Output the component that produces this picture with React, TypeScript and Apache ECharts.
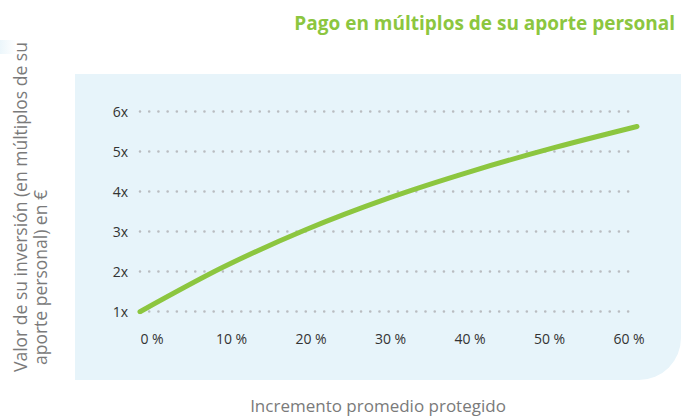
import React, { useEffect, useRef } from "react";
import * as echarts from "echarts";

const TITLE = "Pago en múltiplos de su aporte personal";
const X_NAME = "Incremento promedio protegido";
const Y_NAME_LINES = ["Valor de su inversión (en múltiplos de su", "aporte personal) en €"];

const percentValues = [0, 10, 20, 30, 40, 50, 60];
const multipleValues = [1.0, 2.11, 3.05, 3.84, 4.51, 5.1, 5.63];
const yTicks = [1, 2, 3, 4, 5, 6];

const GREEN = "#8cc63f";
const FONT = "'Open Sans', 'Noto Sans', sans-serif";

export default function App() {
  const ref = useRef<HTMLDivElement>(null);

  useEffect(() => {
    document.body.style.margin = "0";
    if (!ref.current) return;
    const chart = echarts.init(ref.current, undefined, { renderer: "svg" });

    const yNameStyle = {
      fill: "#7a7a7a",
      fontSize: 17.5,
      fontFamily: FONT,
      align: "left",
      verticalAlign: "middle",
    };

    const option: any = {
      animation: false,
      backgroundColor: "#ffffff",
      textStyle: { fontFamily: FONT },
      title: {
        text: TITLE,
        right: 1,
        top: 8,
        textStyle: { color: GREEN, fontSize: 19, fontWeight: "bold", fontFamily: FONT },
      },
      graphic: {
        elements: [
          {
            type: "rect",
            z: -10,
            shape: { x: 75, y: 74, width: 606, height: 306, r: [0, 0, 42, 0] },
            style: { fill: "#e7f4fa" },
          },
          {
            type: "rect",
            z: -10,
            shape: { x: 0, y: 40, width: 16, height: 14 },
            style: {
              fill: new echarts.graphic.LinearGradient(0, 0, 1, 0, [
                { offset: 0, color: "rgba(231,244,250,0.8)" },
                { offset: 1, color: "rgba(231,244,250,0)" },
              ]),
            },
          },
          {
            type: "text",
            x: 20,
            y: 372,
            rotation: Math.PI / 2,
            style: { ...yNameStyle, text: Y_NAME_LINES[0] },
          },
          {
            type: "text",
            x: 39.5,
            y: 365,
            rotation: Math.PI / 2,
            style: { ...yNameStyle, text: Y_NAME_LINES[1] },
          },
          {
            type: "text",
            x: 378,
            y: 405,
            style: {
              text: X_NAME,
              fill: "#7a7a7a",
              fontSize: 17,
              fontFamily: FONT,
              align: "center",
              verticalAlign: "middle",
              lineHeight: 18,
            },
          },
        ],
      },
      grid: [
        { left: 140, right: 44, top: 111.7, bottom: 416 - 311.7 },
        { left: 152, right: 52, top: 111.7, bottom: 416 - 311.7 },
      ],
      xAxis: [
        {
          type: "value",
          gridIndex: 0,
          min: 0,
          max: 60,
          interval: 10,
          axisLine: { show: false },
          axisTick: { show: false },
          axisLabel: { show: false },
          splitLine: { show: false },
        },
        {
          type: "value",
          gridIndex: 1,
          min: 0,
          max: 60,
          interval: 10,
          axisLine: { show: false },
          axisTick: { show: false },
          splitLine: { show: false },
          axisLabel: {
            show: true,
            margin: 20,
            color: "#333333",
            fontSize: 14,
            fontFamily: FONT,
            formatter: (v: number) => `${v} %`,
          },
        },
      ],
      yAxis: [
        {
          type: "value",
          gridIndex: 0,
          min: 1,
          max: 6,
          interval: 1,
          axisLine: { show: false },
          axisTick: { show: false },
          axisLabel: {
            margin: 12,
            color: "#333333",
            fontSize: 14,
            fontFamily: FONT,
            formatter: (v: number) => (yTicks.includes(v) ? `${v}x` : ""),
          },
          splitLine: {
            show: true,
            lineStyle: { color: "#b9bcc0", width: 2.6, type: [0.01, 9.2], cap: "round" },
          },
        },
        {
          type: "value",
          gridIndex: 1,
          min: 0,
          max: 1,
          show: false,
        },
      ],
      series: [
        {
          type: "line",
          xAxisIndex: 0,
          yAxisIndex: 0,
          data: percentValues.map((p, i) => [p, multipleValues[i]]),
          smooth: 0.3,
          showSymbol: false,
          symbol: "none",
          lineStyle: { color: GREEN, width: 5, cap: "round", join: "round" },
          z: 5,
        },
      ],
    };

    chart.setOption(option);
    return () => chart.dispose();
  }, []);

  return <div ref={ref} style={{ width: 681, height: 416 }} />;
}
